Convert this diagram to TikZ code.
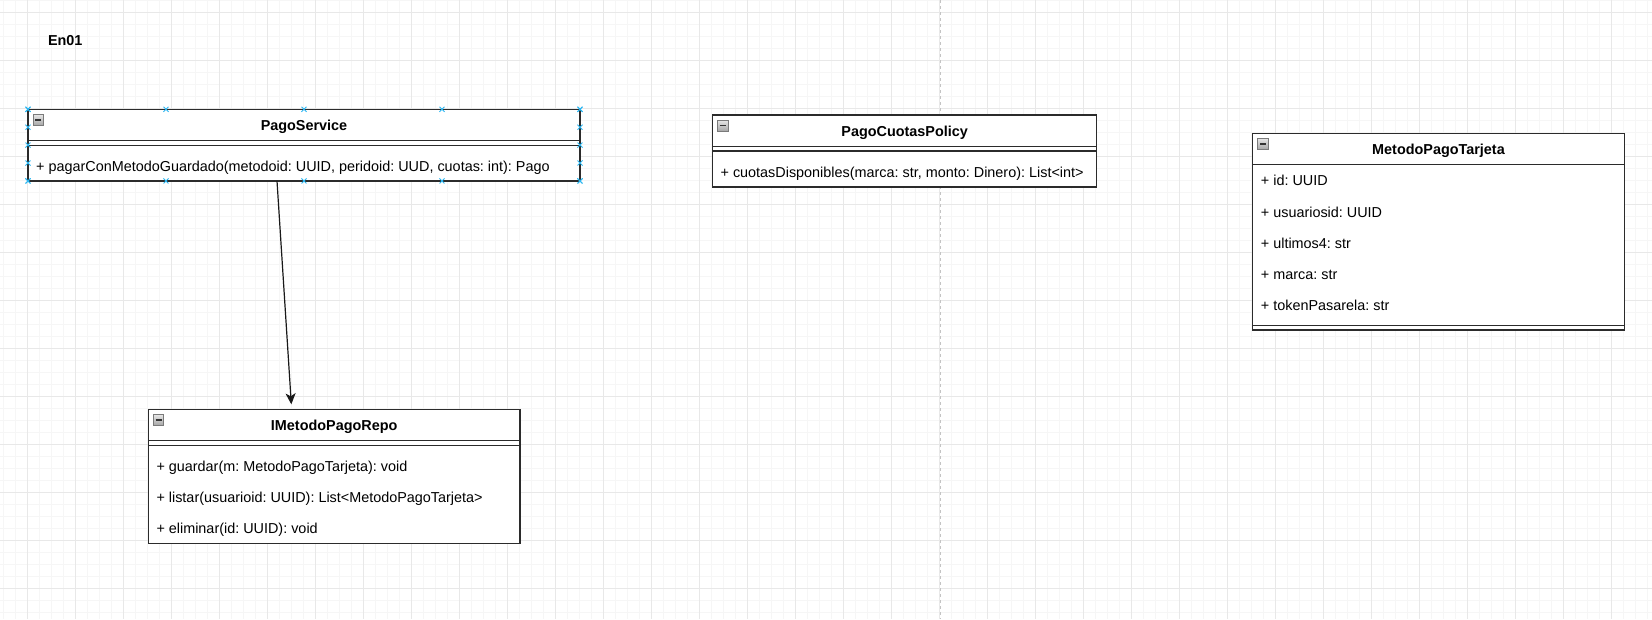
\documentclass[tikz,border=0pt]{standalone}
\usepackage{fontspec}
\setmainfont{Liberation Sans}
\usetikzlibrary{arrows.meta,calc}
\definecolor{gridminor}{HTML}{F6F6F6}
\definecolor{gridmajor}{HTML}{E8E8E8}
\definecolor{pagebreak}{HTML}{C4C4C4}
\definecolor{handle}{HTML}{29B6F2}
\definecolor{stroke}{HTML}{2B2B2B}
\definecolor{iconborder}{HTML}{7A7A7A}
\definecolor{icontop}{HTML}{E4E4E4}
\definecolor{iconbot}{HTML}{A6A6A6}
\frenchspacing
\newcommand\collapseicon[1]{%
  \shade[top color=icontop, bottom color=iconbot, draw=iconborder, line width=0.8pt]
    ($(#1.north west)+(5,5.5)$) rectangle ++(10.5,10.5);
  \draw[black!80, line width=1.3pt] ($(#1.north west)+(7.3,10.75)$) -- ++(5.9,0);}
\begin{document}
\begin{tikzpicture}[x=1pt,y=-1pt,
  umlbox/.style={draw=stroke, line width=1.2pt, fill=white, anchor=north west,
    inner sep=0pt, outer sep=0pt},
  sepline/.style={draw=stroke, line width=1.2pt},
  classtitle/.style={font=\fontsize{14.4}{17}\selectfont\bfseries, anchor=base, inner sep=0pt},
  member/.style={font=\fontsize{14.4}{17}\selectfont, anchor=base west, inner sep=0pt},
  gridmin/.style={draw=gridminor, line width=1pt},
  gridmaj/.style={draw=gridmajor, line width=1pt},
  hmark/.style={draw=handle, line width=0.9pt},
  arrowline/.style={draw=black!90, line width=1.2pt,
    -{Stealth[length=11pt, width=10pt, inset=3pt]}, shorten >=5pt}]
\useasboundingbox (0,0) rectangle (1652,619);
\fill[white] (0,0) rectangle (1652,619);
% grid
\foreach \k in {0,...,137} \draw[gridmin] ({3.8+12*\k},0) -- ++(0,619);
\foreach \k in {0,...,51} \draw[gridmin] (0,{0.5+12*\k}) -- ++(1652,0);
\foreach \k in {0,...,33} \draw[gridmaj] ({27.8+48*\k},0) -- ++(0,619);
\foreach \k in {0,...,12} \draw[gridmaj] (0,{12.5+48*\k}) -- ++(1652,0);
% page break
\draw[pagebreak, line width=1pt, dash pattern=on 3pt off 3pt] (940,0) -- (940,619);

% label
\node[font=\fontsize{14.4}{17}\selectfont\bfseries, anchor=base west, inner sep=0pt] (en) at (47.8,45.7) {En01};

% PagoService
\node[umlbox, minimum width=552pt, minimum height=71.6pt] (ps) at (28,109.3) {};
\draw[sepline] ($(ps.north west)+(0,31.2)$) -- ($(ps.north east)+(0,31.2)$);
\draw[sepline] ($(ps.north west)+(0,36)$) -- ($(ps.north east)+(0,36)$);
\node[classtitle] (pst) at ($(ps.north)+(0,21)$) {PagoService};
\node[member] (psm1) at ($(ps.north west)+(8,62)$) {+ pagarConMetodoGuardado(metodoid: UUID, peridoid: UUD, cuotas: int): Pago};
\collapseicon{ps}
\foreach \f in {0,0.25,0.5,0.75,1}{
  \coordinate (h1) at ($(ps.north west)!\f!(ps.north east)$);
  \coordinate (h2) at ($(ps.south west)!\f!(ps.south east)$);
  \coordinate (h3) at ($(ps.north west)!\f!(ps.south west)$);
  \coordinate (h4) at ($(ps.north east)!\f!(ps.south east)$);
  \foreach \h in {h1,h2,h3,h4}{
    \draw[hmark] ($(\h)+(-2.5,-2.5)$) -- ++(5,5);
    \draw[hmark] ($(\h)+(-2.5,2.5)$) -- ++(5,-5);
  }
}

% PagoCuotasPolicy
\node[umlbox, minimum width=384.4pt, minimum height=72pt] (pcp) at (712.4,115) {};
\draw[sepline] ($(pcp.north west)+(0,31.2)$) -- ($(pcp.north east)+(0,31.2)$);
\draw[sepline] ($(pcp.north west)+(0,36)$) -- ($(pcp.north east)+(0,36)$);
\node[classtitle] (pcpt) at ($(pcp.north)+(0,21)$) {PagoCuotasPolicy};
\node[member] (pcpm1) at ($(pcp.north west)+(8,62.3)$) {+ cuotasDisponibles(marca: str, monto: Dinero): List<int>};
\collapseicon{pcp}

% MetodoPagoTarjeta
\node[umlbox, minimum width=371.6pt, minimum height=196.6pt] (mpt) at (1252.7,133.3) {};
\draw[sepline] ($(mpt.north west)+(0,31.2)$) -- ($(mpt.north east)+(0,31.2)$);
\draw[sepline] ($(mpt.north west)+(0,192)$) -- ($(mpt.north east)+(0,192)$);
\node[classtitle] (mptt) at ($(mpt.north)+(0,21)$) {MetodoPagoTarjeta};
\node[member] (mpta1) at ($(mpt.north west)+(8,52.6)$) {+ id: UUID};
\node[member] (mpta2) at ($(mpt.north west)+(8,83.8)$) {+ usuariosid: UUID};
\node[member] (mpta3) at ($(mpt.north west)+(8,115)$) {+ ultimos4: str};
\node[member] (mpta4) at ($(mpt.north west)+(8,146.2)$) {+ marca: str};
\node[member] (mpta5) at ($(mpt.north west)+(8,177.4)$) {+ tokenPasarela: str};
\collapseicon{mpt}

% IMetodoPagoRepo
\node[umlbox, minimum width=371.7pt, minimum height=134.4pt] (repo) at (148.3,409.3) {};
\draw[sepline] ($(repo.north west)+(0,31.2)$) -- ($(repo.north east)+(0,31.2)$);
\draw[sepline] ($(repo.north west)+(0,36)$) -- ($(repo.north east)+(0,36)$);
\node[classtitle] (repot) at ($(repo.north)+(0,21)$) {IMetodoPagoRepo};
\node[member] (repom1) at ($(repo.north west)+(8,62)$) {+ guardar(m: MetodoPagoTarjeta): void};
\node[member] (repom2) at ($(repo.north west)+(8,93.2)$) {+ listar(usuarioid: UUID): List<MetodoPagoTarjeta>};
\node[member] (repom3) at ($(repo.north west)+(8,124.4)$) {+ eliminar(id: UUID): void};
\collapseicon{repo}

% dependency arrow
\draw[arrowline] ($(ps.south)+(-27,0)$) -- ($(repo.north)+(-42.5,0)$);
\end{tikzpicture}
\end{document}
